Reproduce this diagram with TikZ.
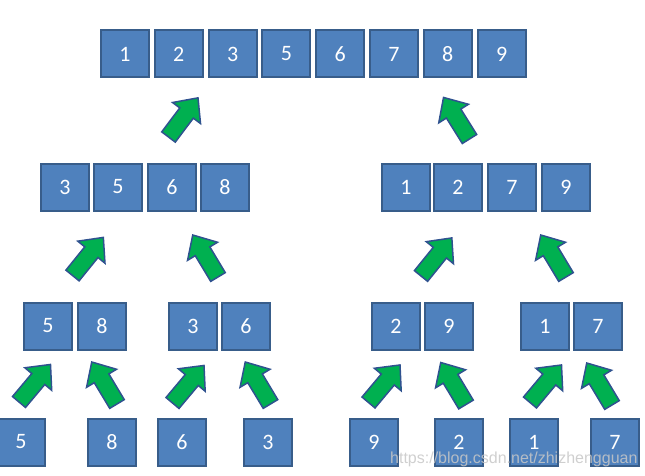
\documentclass[tikz,border=0pt]{standalone}
\usepackage{fontspec}
\setmainfont{Carlito}
\newfontfamily\wmfont{Liberation Sans}
\definecolor{boxfill}{HTML}{4F81BD}
\definecolor{boxline}{HTML}{385D8A}
\definecolor{arrfill}{HTML}{00B050}
\definecolor{arrline}{HTML}{2F528F}
\tikzset{
  numbox/.style={draw=boxline, fill=boxfill, line width=2pt, minimum width=48pt, minimum height=47pt, inner sep=0pt, text=white, font=\fontsize{22}{22}\selectfont},
  greenarrow/.pic={\draw[fill=arrfill, draw=arrline, line width=1.5pt, line join=miter]
     (0,-8.5) -- (30,-8.5) -- (30,-17.5) -- (49,0) -- (30,17.5) -- (30,8.5) -- (0,8.5) -- cycle;},
  watermark/.style={text=white!78!black, opacity=0.85, font=\wmfont\fontsize{16}{16}\selectfont, anchor=base west, inner sep=0pt}
}
\begin{document}
\begin{tikzpicture}[x=1pt,y=-1pt]
\useasboundingbox (0,0) rectangle (645,476);
\clip (0,0) rectangle (645,476);
% top row
\foreach \v [count=\i] in {1,2,3,5,6,7,8,9}
  \node[numbox] (t\i) at ({125+(\i-1)*53.8},54) {\v};
% level 2
\node[numbox] (la1) at (65,187) {3};
\node[numbox] (la2) at (118,187) {5};
\node[numbox] (la3) at (172,187) {6};
\node[numbox] (la4) at (225,187) {8};
\node[numbox] (ra1) at (406,187) {1};
\node[numbox] (ra2) at (458,187) {2};
\node[numbox] (ra3) at (512,187) {7};
\node[numbox] (ra4) at (566,187) {9};
% level 3
\node[numbox] (lb1) at (48,326) {5};
\node[numbox] (lb2) at (102,326) {8};
\node[numbox] (lb3) at (193,326) {3};
\node[numbox] (lb4) at (246,326) {6};
\node[numbox] (rb1) at (396,326) {2};
\node[numbox] (rb2) at (449,326) {9};
\node[numbox] (rb3) at (545,326) {1};
\node[numbox] (rb4) at (598,326) {7};
% level 4
\node[numbox] (c1) at (21,442) {5};
\node[numbox] (c2) at (112,442) {8};
\node[numbox] (c3) at (182,442) {6};
\node[numbox] (c4) at (268,442) {3};
\node[numbox] (c5) at (374,442) {9};
\node[numbox] (c6) at (459,442) {2};
\node[numbox] (c7) at (534,442) {1};
\node[numbox] (c8) at (615,442) {7};
% arrows
\pic[rotate=53] at (168.5,137) {greenarrow};
\pic[rotate=122] at (469.5,139) {greenarrow};
\pic[rotate=51] at (72.5,275.5) {greenarrow};
\pic[rotate=121] at (218,277) {greenarrow};
\pic[rotate=51] at (421,276) {greenarrow};
\pic[rotate=121] at (566,277) {greenarrow};
\pic[rotate=50] at (19,402) {greenarrow};
\pic[rotate=121] at (117,404) {greenarrow};
\pic[rotate=50] at (172.5,403) {greenarrow};
\pic[rotate=121] at (270.5,404) {greenarrow};
\pic[rotate=50] at (368.5,402.5) {greenarrow};
\pic[rotate=121] at (466,404.5) {greenarrow};
\pic[rotate=50] at (530,402.5) {greenarrow};
\pic[rotate=121] at (612,405) {greenarrow};
% watermark
\node[watermark] (wm) at (390,463) {https://blog.csdn.net/zhizhengguan};
\end{tikzpicture}
\end{document}
